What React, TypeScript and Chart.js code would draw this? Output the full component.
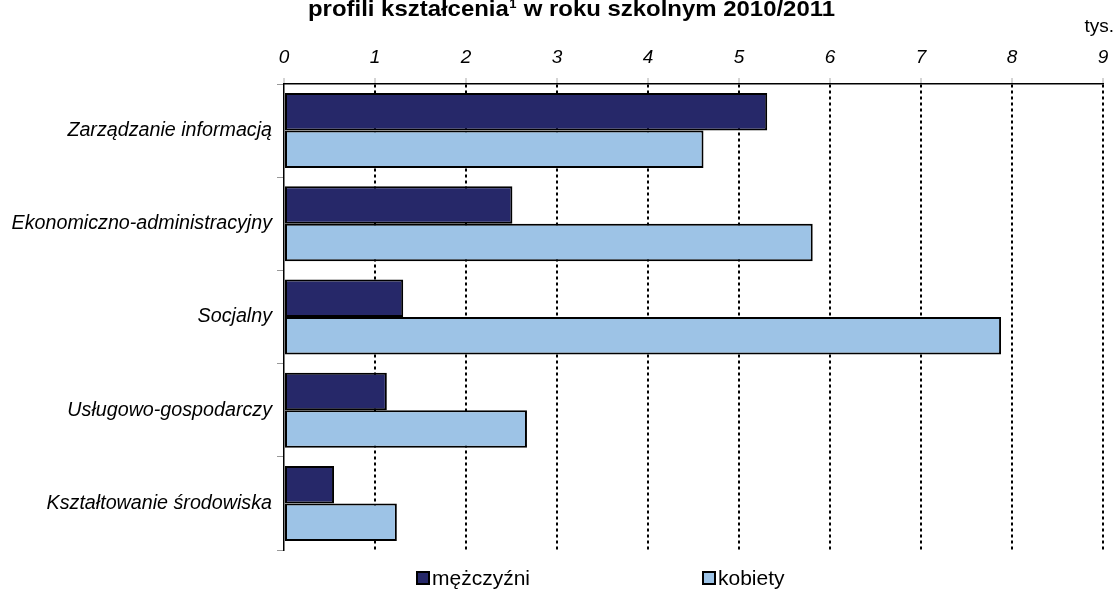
import React, { useEffect, useRef } from "react";
import { Chart, registerables } from "chart.js";

Chart.register(...registerables);

const categories = [
  "Zarządzanie informacją",
  "Ekonomiczno-administracyjny",
  "Socjalny",
  "Usługowo-gospodarczy",
  "Kształtowanie środowiska",
];
const menValues = [5.31, 2.51, 1.31, 1.13, 0.55];
const womenValues = [4.61, 5.81, 7.88, 2.67, 1.24];
const seriesNames = ["mężczyźni", "kobiety"];
const seriesColors = ["#262869", "#9DC3E6"];
const xTicks = [0, 1, 2, 3, 4, 5, 6, 7, 8, 9];
const titleMain = "profili kształcenia";
const titleSup = "1";
const titleRest = " w roku szkolnym 2010/2011";
const unitLabel = "tys.";

const SANS = '"Liberation Sans", Arial, sans-serif';

const decorPlugin = {
  id: "decor",
  afterDraw(chart: any) {
    const ctx = chart.ctx;
    ctx.save();
    // title (partially cut at top)
    ctx.fillStyle = "#000";
    ctx.textBaseline = "alphabetic";
    const big = "bold 22px " + SANS;
    const small = "bold 12px " + SANS;
    ctx.font = big;
    const w1 = ctx.measureText(titleMain).width;
    const w3 = ctx.measureText(titleRest).width;
    ctx.font = small;
    const w2 = ctx.measureText(titleSup).width + 1;
    const total = w1 + w2 + w3;
    const targetW = 527;
    const sx = targetW / total;
    ctx.save();
    ctx.translate(571.5 - targetW / 2, 16);
    ctx.scale(sx, 1);
    ctx.textAlign = "left";
    ctx.font = big;
    ctx.fillText(titleMain, 0, 0);
    ctx.font = small;
    ctx.fillText(titleSup, w1 + 0.5, -8);
    ctx.font = big;
    ctx.fillText(titleRest, w1 + w2, 0);
    ctx.restore();

    // unit
    ctx.font = "19px " + SANS;
    ctx.textAlign = "right";
    ctx.fillText(unitLabel, 1114, 32);

    // legend
    const items = chart.data.datasets.map((d: any) => ({ label: d.label, color: d.backgroundColor }));
    const positions = [417, 703];
    ctx.font = "21px " + SANS;
    ctx.textAlign = "left";
    ctx.textBaseline = "middle";
    items.forEach((it: any, i: number) => {
      const px = positions[i];
      const py = 578;
      ctx.fillStyle = it.color;
      ctx.fillRect(px, py - 6, 12, 12);
      ctx.strokeStyle = "#000";
      ctx.lineWidth = 2;
      ctx.strokeRect(px, py - 6, 12, 12);
      ctx.fillStyle = "#000";
      ctx.fillText(it.label, px + 15, py + 1);
    });
    ctx.restore();
  },
};

export default function App() {
  const ref = useRef<HTMLCanvasElement | null>(null);
  useEffect(() => {
    if (!ref.current) return;
    const chart = new Chart(ref.current, {
      type: "bar",
      data: {
        labels: categories,
        datasets: [
          {
            label: seriesNames[0],
            data: menValues,
            backgroundColor: seriesColors[0],
            borderColor: "#000",
            borderWidth: 2,
            borderSkipped: false,
          },
          {
            label: seriesNames[1],
            data: womenValues,
            backgroundColor: seriesColors[1],
            borderColor: "#000",
            borderWidth: 2,
            borderSkipped: false,
          },
        ],
      },
      options: {
        indexAxis: "y",
        animation: false,
        responsive: false,
        maintainAspectRatio: false,
        layout: { padding: { left: 0, right: 16, top: 0, bottom: 40 } },
        datasets: { bar: { categoryPercentage: 0.805, barPercentage: 1.0 } },
        plugins: {
          legend: { display: false },
          tooltip: { enabled: false },
          title: { display: false },
        },
        scales: {
          x: {
            position: "top",
            min: 0,
            max: 9,
            afterBuildTicks: (axis: any) => {
              axis.ticks = xTicks.map((v) => ({ value: v }));
            },
            afterFit: (axis: any) => {
              axis.height = 84;
            },
            ticks: {
              color: "#000",
              font: { family: SANS, size: 19, style: "italic" },
              padding: 9,
              maxRotation: 0,
            },
            grid: {
              drawOnChartArea: true,
              color: (c: any) => (c.tick && c.tick.value === 0 ? "rgba(0,0,0,0)" : "#000"),
              lineWidth: 2,
              drawTicks: true,
              tickLength: 6,
              tickColor: "#aaa",
              tickWidth: 1,
            },
            border: { display: true, color: "#000", width: 1.5, dash: [3, 3] },
          },
          y: {
            afterFit: (axis: any) => {
              axis.width = 284;
            },
            ticks: {
              color: "#000",
              font: { family: SANS, size: 19.7, style: "italic" },
              padding: 5,
            },
            grid: {
              drawOnChartArea: false,
              drawTicks: true,
              tickLength: 7,
              tickColor: "#999",
              tickWidth: 1,
              offset: true,
            },
            border: { display: true, color: "#000", width: 1.5 },
          },
        },
      },
      plugins: [decorPlugin],
    } as any);
    return () => chart.destroy();
  }, []);
  return (
    <div style={{ position: "fixed", left: 0, top: 0, width: 1119, height: 590, background: "#fff" }}>
      <canvas ref={ref} width={1119} height={590} style={{ width: 1119, height: 590 }} />
    </div>
  );
}
